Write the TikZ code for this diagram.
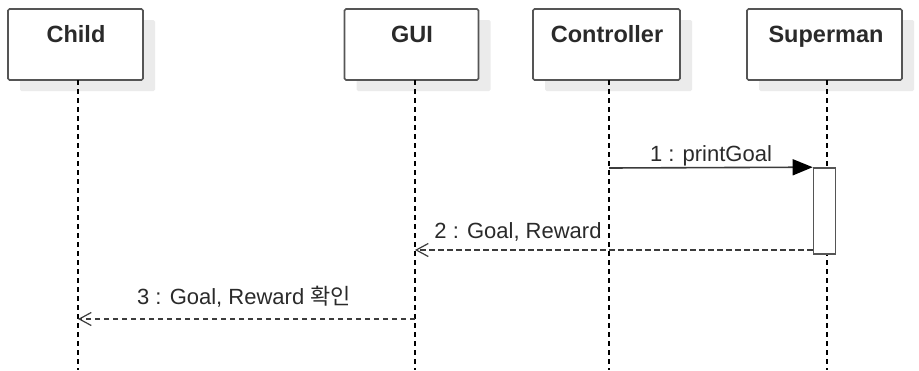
\documentclass[tikz,border=0pt]{standalone}
\usepackage{fontspec}
\setmainfont{Liberation Sans}
\newfontfamily\krfont{Noto Sans CJK KR}
\usetikzlibrary{arrows.meta,shadows}
\definecolor{boxline}{HTML}{555555}
\definecolor{shade}{HTML}{EBEBEB}
\definecolor{txt}{HTML}{2A2A2A}
\tikzset{
  actor/.style={draw=boxline, line width=1.6pt, rounded corners=1.5pt, fill=white,
    minimum width=#1, minimum height=71pt, inner sep=0pt,
    drop shadow={shadow xshift=12pt, shadow yshift=-11pt, fill=shade, opacity=1, rounded corners=0pt, draw=none}},
  actlabel/.style={font=\bfseries\fontsize{23.5}{26}\selectfont, text=txt, anchor=base},
  lifeline/.style={draw=black, line width=1.4pt, dash pattern=on 5pt off 4pt},
  msg/.style={draw=boxline!70!black, line width=1.6pt},
  ret/.style={draw=boxline!70!black, line width=1.6pt, dash pattern=on 5.5pt off 3.5pt,
    -{Straight Barb[length=12pt,width=13pt,line width=1.2pt]}},
  msglabel/.style={font=\fontsize{22}{26}\selectfont, text=txt, anchor=base},
  activation/.style={draw=boxline, line width=1.6pt, fill=white, minimum width=22pt, inner sep=0pt}
}
\begin{document}
\begin{tikzpicture}[x=1pt,y=-1pt]
\useasboundingbox (0,0) rectangle (919,370);
% actor boxes
\node[actor=135pt] (child) at (75.5,44.5) {};
\node[actor=134pt] (gui) at (411.5,44.5) {};
\node[actor=147pt] (ctrl) at (606.5,44.5) {};
\node[actor=155pt] (sup) at (824.5,44.5) {};
\node[actlabel] (childL) at (76,42) {Child};
\node[actlabel] (guiL) at (412,42) {GUI};
\node[actlabel] (ctrlL) at (607,42) {Controller};
\node[actlabel] (supL) at (826,42) {Superman};
% lifeline ends
\coordinate (childE) at (78,370);
\coordinate (guiE) at (415,370);
\coordinate (ctrlE) at (609,370);
\coordinate (supE) at (827,370);
\draw[lifeline] (78,80) -- (childE);
\draw[lifeline] (415,80) -- (guiE);
\draw[lifeline] (609,80) -- (ctrlE);
\draw[lifeline] (827,80) -- (supE);
% activation
\node[activation, minimum height=86pt] (act) at (824.5,211) {};
% message 1
\coordinate (m1s) at (609,168);
\draw[msg, -{Triangle[length=20pt,width=16pt,fill=black,color=black]}] (m1s) -- (act.north west);
\node[msglabel] (m1L) at (711,161) {1 : printGoal};
% message 2
\coordinate (m2s) at (act.west |- 0,250);
\coordinate (m2e) at (415,250);
\draw[ret] (m2s) -- (m2e);
\node[msglabel] (m2L) at (518,238) {2 : Goal, Reward};
% message 3
\coordinate (m3s) at (415,319);
\coordinate (m3e) at (78,319);
\draw[ret] (m3s) -- (m3e);
\node[msglabel] (m3L) at (244,304) {3 : Goal, Reward {\krfont 확인}};
\end{tikzpicture}
\end{document}
